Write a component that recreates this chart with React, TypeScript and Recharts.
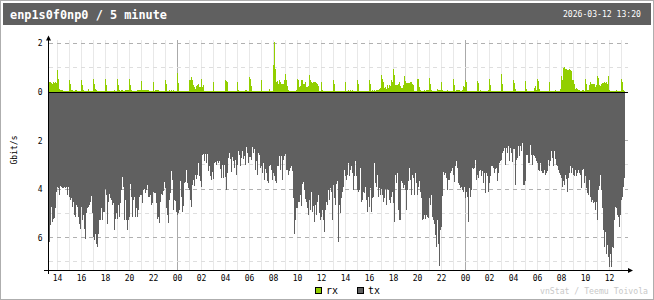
import React from "react";
import { BarChart, Bar, XAxis, YAxis, CartesianGrid, ReferenceLine } from "recharts";

// ---- data (Gbit/s), one value per 5 minutes, oldest first ----
const txGbit = [
  6.18,5.49,4.75,5.35,5.21,5.17,4.79,4.10,3.89,3.96,4.24,3.86,3.89,3.96,3.96,3.89,3.96,3.89,4.24,3.89,4.31,4.44,4.38,4.75,
  4.51,5.07,5.14,4.65,4.72,5.14,5.42,5.63,4.72,5.28,5.07,5.63,6.04,5.00,4.79,4.72,4.65,4.51,4.28,5.00,5.97,6.11,5.83,6.25,
  6.39,5.83,5.25,5.28,4.79,5.28,4.93,4.93,4.00,4.24,5.42,4.51,4.19,4.38,4.44,4.65,4.58,5.69,5.21,5.00,5.21,4.65,5.14,4.58,
  4.03,3.50,3.89,5.25,4.44,5.28,5.69,5.28,5.14,3.78,4.31,5.14,4.44,4.31,5.14,4.79,5.14,4.86,4.31,4.24,4.24,4.58,4.03,4.00,
  4.17,4.03,3.82,4.31,4.31,4.24,4.65,4.58,4.10,4.14,4.17,4.58,5.21,5.14,5.39,4.51,4.19,4.24,4.06,3.69,3.96,4.79,5.07,5.39,
  4.44,4.14,3.26,3.61,4.86,4.44,4.49,4.93,5.07,5.00,4.86,3.68,4.31,4.93,4.69,3.75,3.72,3.22,3.75,3.96,4.03,4.44,4.72,3.82,
  3.61,3.86,3.40,3.58,3.40,2.92,3.47,3.65,3.89,2.61,2.54,2.85,2.53,2.94,2.53,3.26,3.06,3.47,3.61,3.31,3.58,2.92,2.89,2.99,
  2.85,2.92,2.85,3.17,3.54,2.99,3.54,2.99,3.50,4.03,3.33,2.71,2.50,2.75,3.31,2.67,2.85,3.13,2.78,3.40,2.99,2.43,2.57,3.06,
  2.71,2.43,2.75,2.64,2.99,2.25,2.50,2.92,2.67,2.67,2.78,2.25,2.50,2.36,3.19,2.85,3.40,2.50,2.61,3.13,3.06,3.33,2.92,3.61,
  3.17,3.33,3.68,3.75,3.06,2.99,3.19,3.61,3.33,3.47,3.68,3.75,3.06,3.03,2.64,3.19,2.64,3.61,2.78,2.64,2.53,3.19,3.19,3.40,
  3.26,3.13,3.06,3.26,4.38,5.83,5.25,4.79,4.79,4.51,4.51,4.24,4.69,3.78,3.72,4.03,4.42,4.51,4.79,5.07,4.44,4.86,4.10,4.93,
  4.69,5.35,4.65,5.07,4.51,4.24,5.00,5.28,5.14,4.86,5.28,5.76,4.86,4.51,4.65,4.03,4.44,3.96,4.10,5.28,3.82,4.38,4.65,3.78,
  3.68,6.18,4.65,5.00,4.38,4.10,3.89,3.19,3.47,3.61,3.40,2.92,3.47,3.19,3.06,3.33,4.03,3.47,2.85,3.47,4.03,4.10,4.03,3.13,
  4.51,4.44,4.10,4.17,3.89,4.44,4.93,4.31,4.72,3.96,4.93,4.38,4.33,2.92,3.75,3.89,3.40,4.31,3.96,4.24,4.00,4.24,4.51,4.38,
  4.00,4.65,4.00,4.03,4.44,4.58,4.31,4.10,4.58,5.35,3.40,3.75,3.33,4.86,5.25,5.28,3.68,3.75,3.96,3.82,4.03,4.86,4.03,3.68,
  3.13,3.61,4.24,3.40,3.54,4.24,3.33,3.75,4.24,3.89,3.68,4.10,4.38,5.28,5.21,5.07,5.21,5.07,5.14,5.17,4.38,4.65,4.24,5.14,
  5.28,5.42,5.90,6.39,5.28,6.25,7.15,5.69,5.56,4.28,3.31,3.40,3.33,3.54,4.03,3.61,3.64,3.33,3.26,3.13,3.40,3.72,3.06,2.85,
  3.13,3.75,3.82,3.96,3.89,4.03,4.10,3.89,4.38,4.10,4.31,5.35,3.96,4.33,4.03,3.13,3.17,3.13,2.78,3.61,3.40,3.54,3.26,3.19,
  3.47,3.26,3.75,3.33,4.17,3.33,3.44,4.10,3.75,3.47,3.06,3.03,3.13,3.33,3.17,3.13,3.68,3.33,2.92,2.85,2.78,2.50,2.43,2.29,
  2.99,2.29,2.50,2.22,2.85,2.29,2.50,2.89,2.36,2.33,3.82,2.78,2.71,2.22,2.64,2.22,2.43,2.11,3.82,3.82,3.68,2.57,2.61,2.92,
  2.92,2.19,2.61,2.99,2.61,2.64,2.71,2.85,2.92,3.19,3.26,2.92,3.26,3.33,3.33,3.19,3.40,3.33,3.26,2.78,3.06,2.85,2.43,2.71,
  3.06,2.43,2.75,2.99,3.06,3.19,3.33,3.40,3.54,3.89,3.68,3.82,3.40,3.58,4.10,3.54,3.33,3.06,3.33,3.13,3.40,3.47,3.19,3.44,
  3.33,3.19,3.33,3.40,3.96,3.19,3.17,3.75,3.47,3.96,4.17,4.24,3.61,4.31,4.51,4.44,4.58,4.51,4.86,4.51,5.25,4.03,3.86,3.40,
  4.03,4.79,5.69,6.39,5.76,6.67,6.32,6.81,7.19,6.67,7.22,6.39,6.42,5.28,4.72,4.79,5.07,5.14,5.56,5.07,4.44,4.31,3.89,3.54,
];

const rxGbit = [
  0.42,0.42,0.38,0.35,0.42,0.38,0.42,0.38,0.90,0.56,0.14,0.10,0.10,0.10,0.06,0.06,0.06,0.06,0.06,0.06,0.49,0.35,0.10,0.10,
  0.06,0.06,0.10,0.10,0.06,0.06,0.06,0.06,0.49,0.28,0.10,0.06,0.06,0.06,0.06,0.15,0.06,0.06,0.06,0.06,0.53,0.35,0.13,0.10,
  0.06,0.06,0.06,0.06,0.06,0.06,0.06,0.06,0.53,0.28,0.06,0.06,0.06,0.06,0.06,0.06,0.06,0.10,0.06,0.06,0.53,0.28,0.10,0.06,
  0.10,0.10,0.06,0.06,0.10,0.10,0.10,0.10,0.53,0.28,0.10,0.06,0.06,0.06,0.06,0.06,0.10,0.10,0.10,0.10,0.44,0.10,0.10,0.10,
  0.10,0.10,0.10,0.10,0.06,0.06,0.06,0.06,0.40,0.06,0.10,0.10,0.10,0.10,0.06,0.06,0.06,0.06,0.06,0.06,0.49,0.35,0.06,0.06,
  0.10,0.06,0.10,0.06,0.10,0.06,0.06,0.06,0.79,0.38,0.06,0.06,0.06,0.06,0.06,0.06,0.06,0.06,0.06,0.06,0.51,0.49,0.63,0.49,
  0.28,0.21,0.14,0.24,0.28,0.35,0.21,0.21,0.56,0.21,0.30,0.06,0.06,0.06,0.06,0.06,0.06,0.06,0.06,0.06,0.42,0.06,0.06,0.06,
  0.06,0.06,0.06,0.06,0.06,0.06,0.06,0.06,0.51,0.46,0.42,0.06,0.06,0.06,0.06,0.06,0.06,0.06,0.06,0.06,0.42,0.10,0.06,0.06,
  0.06,0.06,0.06,0.06,0.10,0.10,0.06,0.06,0.61,0.56,0.24,0.06,0.06,0.06,0.06,0.06,0.06,0.06,0.06,0.06,0.49,0.06,0.06,0.06,
  0.06,0.06,0.06,0.06,0.11,0.06,0.06,0.06,1.11,2.06,0.97,0.42,0.46,0.35,0.51,0.42,0.35,0.35,0.35,0.49,0.76,0.51,0.24,0.10,
  0.06,0.06,0.06,0.06,0.06,0.06,0.06,0.10,0.56,0.49,0.21,0.24,0.49,0.49,0.35,0.35,0.42,0.21,0.21,0.24,0.69,0.49,0.42,0.38,
  0.42,0.42,0.42,0.38,0.35,0.24,0.06,0.06,0.42,0.10,0.06,0.06,0.06,0.06,0.06,0.06,0.06,0.06,0.06,0.06,0.49,0.35,0.06,0.06,
  0.06,0.06,0.06,0.06,0.06,0.06,0.06,0.06,0.42,0.06,0.06,0.10,0.06,0.10,0.06,0.10,0.06,0.06,0.06,0.06,0.49,0.32,0.06,0.06,
  0.06,0.06,0.06,0.06,0.06,0.06,0.06,0.06,0.51,0.32,0.06,0.10,0.06,0.10,0.06,0.10,0.10,0.10,0.14,0.18,0.69,0.56,0.42,0.18,
  0.21,0.14,0.28,0.18,0.28,0.24,0.51,0.42,0.94,0.69,0.28,0.28,0.31,0.35,0.42,0.24,0.18,0.18,0.28,0.65,0.46,0.39,0.39,0.39,
  0.39,0.42,0.42,0.35,0.28,0.06,0.06,0.06,0.53,0.56,0.21,0.10,0.06,0.06,0.06,0.10,0.06,0.10,0.10,0.10,0.58,0.32,0.10,0.06,
  0.06,0.06,0.06,0.06,0.15,0.10,0.10,0.10,0.42,0.10,0.06,0.06,0.06,0.06,0.10,0.06,0.06,0.06,0.06,0.06,0.53,0.28,0.06,0.10,
  0.10,0.10,0.10,0.06,0.06,0.10,0.24,0.21,0.51,0.42,0.06,0.06,0.06,0.06,0.06,0.06,0.06,0.06,0.06,0.06,0.44,0.38,0.06,0.10,
  0.06,0.06,0.06,0.06,0.06,0.06,0.06,0.10,0.53,0.28,0.06,0.06,0.06,0.06,0.06,0.06,0.06,0.06,0.06,0.06,0.74,0.32,0.06,0.06,
  0.06,0.06,0.06,0.06,0.06,0.06,0.06,0.06,0.49,0.38,0.14,0.06,0.06,0.06,0.06,0.06,0.06,0.06,0.06,0.06,0.44,0.14,0.06,0.06,
  0.06,0.06,0.06,0.06,0.06,0.18,0.24,0.10,0.53,0.46,0.14,0.06,0.06,0.06,0.06,0.06,0.06,0.06,0.06,0.06,0.42,0.06,0.06,0.06,
  0.06,0.06,0.10,0.06,0.06,0.06,0.06,0.14,0.65,0.49,1.01,1.04,0.97,0.97,0.90,0.93,0.97,0.93,0.88,0.49,0.51,0.32,0.14,0.18,
  0.13,0.10,0.10,0.06,0.06,0.10,0.10,0.06,0.53,0.32,0.10,0.10,0.28,0.42,0.35,0.32,0.32,0.32,0.21,0.28,0.65,0.60,0.28,0.24,
  0.35,0.38,0.38,0.40,0.38,0.40,0.35,0.65,0.10,0.06,0.06,0.06,0.06,0.06,0.06,0.10,0.06,0.06,0.06,0.06,0.53,0.42,0.10,0.06,
];

// time base: first sample 13:20, 5 minute steps
const startHour = 13;
const startMinute = 20;
const stepMinutes = 5;

const xTickLabels = ["14","16","18","20","22","00","02","04","06","08","10","12","14","16","18","20","22","00","02","04","06","08","10","12"];
const yTickValues = [2, 0, -2, -4, -6];
const yDarkLines = [2, -2, -4, -6];
const yLightLines = [1, -3, -5, -7];

const title = "enp1s0f0np0 / 5 minute";
const dateText = "2026-03-12 13:20";
const unitText = "Gbit/s";
const credit = "vnStat / Teemu Toivola";

const RX = "#92CF00";
const TX = "#606060";
const MONO = "'DejaVu Sans Mono', 'Liberation Mono', monospace";

const X_DOMAIN: [number, number] = [-0.5, 578.5];
const Y_DOMAIN: [number, number] = [-7.331, 2.15];

const perHour = 60 / stepMinutes;
const firstHourIdx = (60 - startMinute) / stepMinutes;
const hourIdx = Array.from({ length: Math.floor((txGbit.length - firstHourIdx) / perHour) + 1 }, (_, k) => firstHourIdx + k * perHour);
const hourOfIdx = (i: number) => (startHour + 1 + (i - firstHourIdx) / perHour) % 24;
const lightHourIdx = hourIdx.filter((i) => hourOfIdx(i) !== 0);
const midnightIdx = hourIdx.filter((i) => hourOfIdx(i) === 0);
const labelIdx = hourIdx.filter((i) => hourOfIdx(i) % 2 === 0);

const data = txGbit.map((t, i) => ({ i, rx: rxGbit[i], tx: -t }));

const xPos = (props: any, v: number) => {
  const xa = props && props.xAxis;
  if (xa && typeof xa.scale === "function") return xa.scale(v);
  const { left, width } = props.offset;
  return left + ((v - X_DOMAIN[0]) / (X_DOMAIN[1] - X_DOMAIN[0])) * width;
};
const yPos = (props: any, v: number) => {
  const ya = props && props.yAxis;
  if (ya && typeof ya.scale === "function") return ya.scale(v);
  const { top, height } = props.offset;
  return top + ((Y_DOMAIN[1] - v) / (Y_DOMAIN[1] - Y_DOMAIN[0])) * height;
};

export default function App() {
  return (
    <div style={{ position: "absolute", left: 0, top: 0, width: 654, height: 300, background: "#fff" }}>
      <BarChart
        width={654}
        height={300}
        data={data}
        margin={{ top: 40, right: 26, bottom: 0, left: 0 }}
        stackOffset="sign"
        barCategoryGap={0}
        barGap={0}
        barSize={1}
      >
        <CartesianGrid
          horizontal={false}
          stroke="#e8e8e8"
          shapeRendering="crispEdges"
          verticalCoordinatesGenerator={(p: any) => lightHourIdx.map((i) => xPos(p, i))}
        />
        <CartesianGrid
          horizontal={false}
          stroke="#aaaaaa"
          shapeRendering="crispEdges"
          verticalCoordinatesGenerator={(p: any) => midnightIdx.map((i) => xPos(p, i))}
        />
        <CartesianGrid
          vertical={false}
          stroke="#dedede"
          strokeDasharray="4 4"
          shapeRendering="crispEdges"
          horizontalCoordinatesGenerator={(p: any) => yLightLines.map((v) => yPos(p, v))}
        />
        <CartesianGrid
          vertical={false}
          stroke="#b0b0b0"
          strokeDasharray="4 4"
          shapeRendering="crispEdges"
          horizontalCoordinatesGenerator={(p: any) => yDarkLines.map((v) => yPos(p, v))}
        />
        <XAxis
          dataKey="i"
          type="number"
          domain={X_DOMAIN}
          allowDataOverflow
          ticks={labelIdx}
          interval={0}
          tickFormatter={(v: number) => xTickLabels[labelIdx.indexOf(v)] ?? ""}
          axisLine={false}
          tickLine={false}
          tickSize={0}
          tickMargin={5}
          height={30}
          tick={{ fontSize: 8, fontFamily: MONO, fill: "#000" }}
        />
        <YAxis
          type="number"
          domain={Y_DOMAIN}
          allowDataOverflow
          ticks={yTickValues}
          interval={0}
          tickFormatter={(v: number) => String(Math.abs(v))}
          axisLine={false}
          tickLine={false}
          tickSize={0}
          tickMargin={6.5}
          width={49}
          tick={{ fontSize: 8, fontFamily: MONO, fill: "#000" }}
        />
        <Bar dataKey="rx" stackId="s" fill={RX} isAnimationActive={false} shapeRendering="crispEdges" />
        <Bar dataKey="tx" stackId="s" fill={TX} isAnimationActive={false} shapeRendering="crispEdges" />
        <ReferenceLine y={0} stroke="#000" strokeWidth={1} shapeRendering="crispEdges" />
      </BarChart>
      <svg
        width={654}
        height={300}
        style={{ position: "absolute", left: 0, top: 0, pointerEvents: "none" }}
        fontFamily={MONO}
      >
        <rect x={0.5} y={0.5} width={653} height={299} fill="none" stroke="#aeaeae" />
        <rect x={3} y={3} width={648} height={22} fill="#606060" />
        <text x={10} y={19} fill="#fff" fontSize={12} fontWeight="bold" textLength={157} lengthAdjust="spacingAndGlyphs">
          {title}
        </text>
        <text x={641} y={17} fill="#fff" fontSize={8.5} textAnchor="end" textLength={78} lengthAdjust="spacingAndGlyphs">
          {dateText}
        </text>
        {/* axes */}
        <line x1={48.5} y1={38} x2={48.5} y2={274} stroke="#000" />
        <polygon points="48.5,35.5 46,40.5 51,40.5" fill="#000" />
        <line x1={44} y1={270.5} x2={629} y2={270.5} stroke="#000" />
        <polygon points="633,270.5 628,268 628,273" fill="#000" />
        <text
          x={14.5}
          y={150}
          fontSize={8}
          fill="#000"
          textAnchor="middle"
          dominantBaseline="central"
          transform="rotate(-90 14.5 150)"
        >
          {unitText}
        </text>
        {/* legend */}
        <rect x={315.5} y={287.5} width={6} height={6} fill={RX} stroke="#000" />
        <text x={326} y={294} fontSize={10} fill="#000" textLength={12} lengthAdjust="spacingAndGlyphs">rx</text>
        <rect x={357.5} y={287.5} width={6} height={6} fill={TX} stroke="#000" />
        <text x={368} y={294} fontSize={10} fill="#000" textLength={12} lengthAdjust="spacingAndGlyphs">tx</text>
        <text x={648} y={294} fontSize={8} fill="#c8c8c8" textAnchor="end" textLength={108} lengthAdjust="spacingAndGlyphs">
          {credit}
        </text>
      </svg>
    </div>
  );
}
